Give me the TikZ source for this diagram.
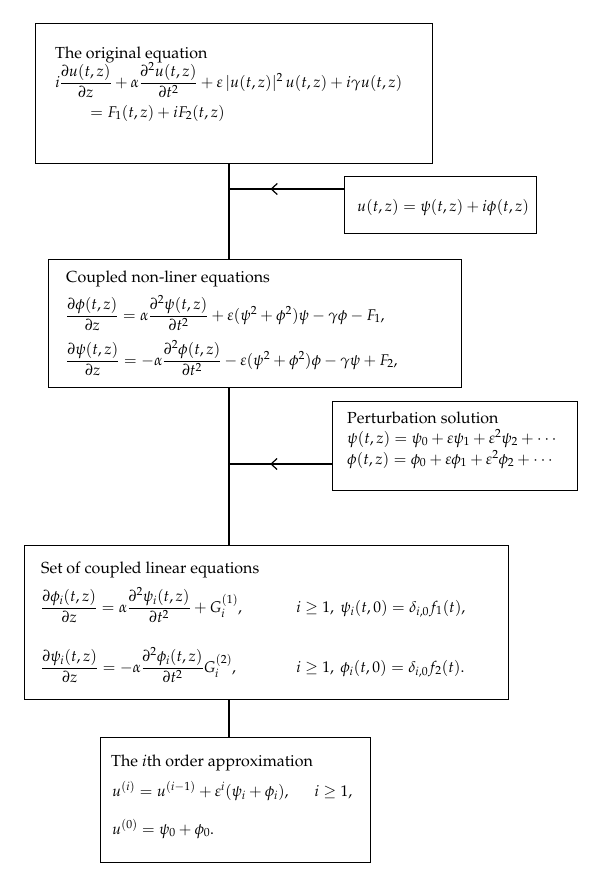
\documentclass[tikz,border=0pt]{standalone}
\usepackage[T1]{fontenc}
\usepackage{amsmath}
\usepackage{mathpazo}
\usetikzlibrary{arrows.meta,decorations.markings}
\newcommand\fsz{\fontsize{16}{19}\selectfont}
\newcommand\msz{\fontsize{15.5}{19}\selectfont}
\tikzset{
  box/.style={draw, line width=1.2pt, inner sep=0pt, anchor=north west},
  txt/.style={anchor=base west, inner sep=0pt, font=\fsz},
  eq/.style={anchor=base west, inner sep=0pt, font=\msz},
  link/.style={line width=1.2pt},
  midarrow/.style={postaction={decorate}, decoration={markings,
    mark=at position #1 with {\arrow{Straight Barb[length=6pt,width=11pt,line width=1.2pt]}}}}
}
\begin{document}
\begin{tikzpicture}[x=1pt,y=-1pt]
\useasboundingbox[fill=white] (0,0) rectangle (600,876);
% boxes
\node[box, minimum width=397pt, minimum height=140pt] (b1) at (35,23) {};
\node[box, minimum width=192pt, minimum height=57pt] (b2) at (344,176) {};
\node[box, minimum width=413pt, minimum height=128pt] (b3) at (48,259) {};
\node[box, minimum width=245pt, minimum height=89pt] (b4) at (332,401) {};
\node[box, minimum width=484pt, minimum height=154pt] (b5) at (24,545) {};
\node[box, minimum width=270pt, minimum height=125pt] (b6) at (100,737) {};
% box 1
\node[txt] (t11) at (55,58) {The original equation};
\node[eq] (t12) at (55,87) {$i\dfrac{\partial u(t,z)}{\partial z}+\alpha\dfrac{\partial^2u(t,z)}{\partial t^2}+\varepsilon\,|u(t,z)|^2\,u(t,z)+i\gamma u(t,z)$};
\node[eq] (t13) at (90,117) {$=F_1(t,z)+iF_2(t,z)$};
% box 2
\node[eq] (t21) at (357,211) {$u(t,z)=\psi(t,z)+i\phi(t,z)$};
% box 3
\node[txt] (t31) at (66,282) {Coupled non-liner equations};
\node[eq] (t32) at (66,320) {$\dfrac{\partial\phi(t,z)}{\partial z}=\alpha\dfrac{\partial^2\psi(t,z)}{\partial t^2}+\varepsilon(\psi^2+\phi^2)\psi-\gamma\phi-F_1,$};
\node[eq] (t33) at (66,365) {$\dfrac{\partial\psi(t,z)}{\partial z}=-\alpha\dfrac{\partial^2\phi(t,z)}{\partial t^2}-\varepsilon(\psi^2+\phi^2)\phi-\gamma\psi+F_2,$};
% box 4
\node[txt] (t41) at (347,423) {Perturbation solution};
\node[eq] (t42) at (347,443) {$\psi(t,z)=\psi_0+\varepsilon\psi_1+\varepsilon^2\psi_2+\cdots$};
\node[eq] (t43) at (347,464) {$\phi(t,z)=\phi_0+\varepsilon\phi_1+\varepsilon^2\phi_2+\cdots$};
% box 5
\node[txt] (t51) at (41,573) {Set of coupled linear equations};
\node[eq] (t52) at (41,612) {$\dfrac{\partial\phi_i(t,z)}{\partial z}=\alpha\dfrac{\partial^2\psi_i(t,z)}{\partial t^2}+G_i^{(1)},$};
\node[eq] (t53) at (296,612) {$i\ge1,\ \psi_i(t,0)=\delta_{i,0}f_1(t),$};
\node[eq] (t54) at (41,672) {$\dfrac{\partial\psi_i(t,z)}{\partial z}=-\alpha\dfrac{\partial^2\phi_i(t,z)}{\partial t^2}G_i^{(2)},$};
\node[eq] (t55) at (296,672) {$i\ge1,\ \phi_i(t,0)=\delta_{i,0}f_2(t).$};
% box 6
\node[txt] (t61) at (111,766) {The $i$th order approximation};
\node[eq] (t62) at (112,796) {$u^{(i)}=u^{(i-1)}+\varepsilon^i(\psi_i+\phi_i),\quad\ \ i\ge1,$};
\node[eq] (t63) at (112,834) {$u^{(0)}=\psi_0+\phi_0.$};
% connectors
\coordinate (j1) at (229,189);
\coordinate (j2) at (229,464);
\draw[link] (b1.south -| j1) -- (b3.north -| j1);
\draw[link] (b3.south -| j1) -- (b5.north -| j1);
\draw[link] (b5.south -| j1) -- (b6.north -| j1);
\draw[link, midarrow=0.64] (b2.west |- j1) -- (j1);
\draw[link, midarrow=0.60] (b4.west |- j2) -- (j2);
\end{tikzpicture}
\end{document}
